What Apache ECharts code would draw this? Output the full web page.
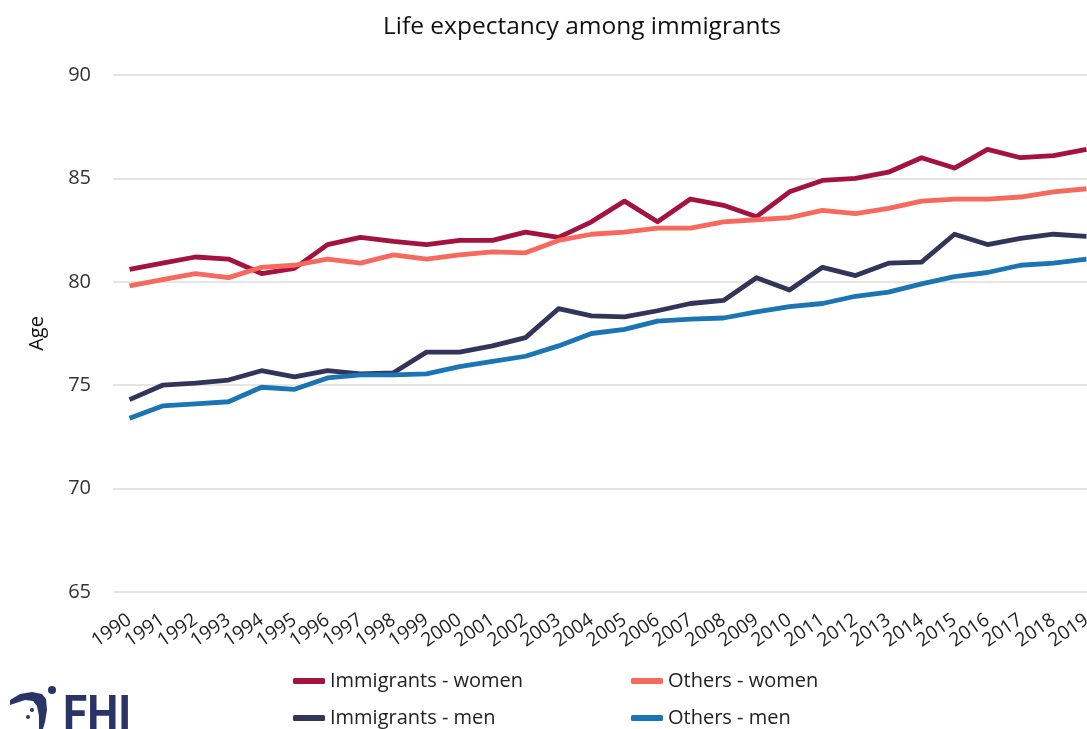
<!DOCTYPE html>
<html>
<head>
<meta charset="utf-8">
<script src="https://cdn.jsdelivr.net/npm/echarts@6/dist/echarts.min.js"></script>
<style>html,body{margin:0;padding:0;background:#fff}#c{width:1087px;height:729px}</style>
</head>
<body>
<div id="c"></div>
<script>
const years = ['1990','1991','1992','1993','1994','1995','1996','1997','1998','1999','2000','2001','2002','2003','2004','2005','2006','2007','2008','2009','2010','2011','2012','2013','2014','2015','2016','2017','2018','2019'];
const immigrantsWomen = [80.6,80.9,81.2,81.1,80.4,80.65,81.8,82.15,81.95,81.8,82.0,82.0,82.4,82.15,82.9,83.9,82.9,84.0,83.7,83.15,84.35,84.9,85.0,85.3,86.0,85.5,86.4,86.0,86.1,86.4];
const othersWomen = [79.8,80.1,80.4,80.2,80.7,80.8,81.1,80.9,81.3,81.1,81.3,81.45,81.4,82.0,82.3,82.4,82.6,82.6,82.9,83.0,83.1,83.45,83.3,83.55,83.9,84.0,84.0,84.1,84.35,84.5];
const immigrantsMen = [74.3,75.0,75.1,75.25,75.7,75.4,75.7,75.55,75.6,76.6,76.6,76.9,77.3,78.7,78.35,78.3,78.6,78.95,79.1,80.2,79.6,80.7,80.3,80.9,80.95,82.3,81.8,82.1,82.3,82.2];
const othersMen = [73.4,74.0,74.1,74.2,74.9,74.8,75.35,75.5,75.5,75.55,75.9,76.15,76.4,76.9,77.5,77.7,78.1,78.2,78.25,78.55,78.8,78.95,79.3,79.5,79.9,80.25,80.45,80.8,80.9,81.1];
const seriesNames = ['Immigrants - women','Others - women','Immigrants - men','Others - men'];
const yTicks = [65,70,75,80,85,90];

const colors = ['#A4123F','#F7695C','#323559','#1B75B4'];
const FONT = 'Open Sans';
const chart = echarts.init(document.getElementById('c'), null, {renderer:'canvas'});
const legendPos = [[288,666],[626,666],[288,703],[626,703]];
const navy = '#2B3467';
chart.setOption({
  animation:false,
  textStyle:{fontFamily:FONT},
  title:{text:'Life expectancy among immigrants',left:378,top:10,
    textStyle:{fontFamily:FONT,fontSize:24.5,fontWeight:'normal',color:'#111'}},
  legend: seriesNames.map((n,i)=>({
    data:[n], left:legendPos[i][0], top:legendPos[i][1],
    itemWidth:32, itemHeight:6, itemGap:10, icon:'roundRect',
    textStyle:{fontFamily:FONT,fontSize:20,color:'#222'}
  })),
  grid:{left:113,right:-16,top:75,bottom:137,containLabel:false,outerBoundsMode:'none'},
  xAxis:{type:'category',data:years,boundaryGap:true,
    axisLine:{show:false},axisTick:{show:false},
    axisLabel:{rotate:35,interval:0,fontFamily:FONT,fontSize:19,color:'#222',margin:26}},
  yAxis:{type:'value',min:yTicks[0],max:yTicks[yTicks.length-1],interval:5,
    name:'Age',nameLocation:'middle',nameGap:66,nameRotate:90,
    nameTextStyle:{fontFamily:FONT,fontSize:20,color:'#111'},
    axisLine:{show:false},axisTick:{show:false},
    axisLabel:{fontFamily:FONT,fontSize:20,color:'#333',margin:22},
    splitLine:{lineStyle:{color:'#dcdcdc',width:1.5}}},
  series:[immigrantsWomen,othersWomen,immigrantsMen,othersMen].map((d,i)=>({
    name:seriesNames[i],type:'line',data:d,showSymbol:false,symbol:'none',
    lineStyle:{width:4.8,color:colors[i],join:'round'},itemStyle:{color:colors[i]}
  })),
  graphic:[
    {type:'text',x:63,y:693,scaleX:0.88,style:{text:'FHI',font:'bold 50px Roboto',fill:navy}},
    {type:'polygon',shape:{points:[[10,700],[20,694],[32,692],[42,694],[46,699],[47,710],[45,722],[43,729],[39,729],[39,716],[37,706],[33,701],[25,700],[16,703],[10,705]]},style:{fill:navy}},
    {type:'circle',shape:{cx:52,cy:690,r:4},style:{fill:navy}},
    {type:'circle',shape:{cx:32,cy:710,r:2},style:{fill:navy}},
    {type:'circle',shape:{cx:28,cy:717,r:2},style:{fill:navy}}
  ]
});
</script>
</body>
</html>
